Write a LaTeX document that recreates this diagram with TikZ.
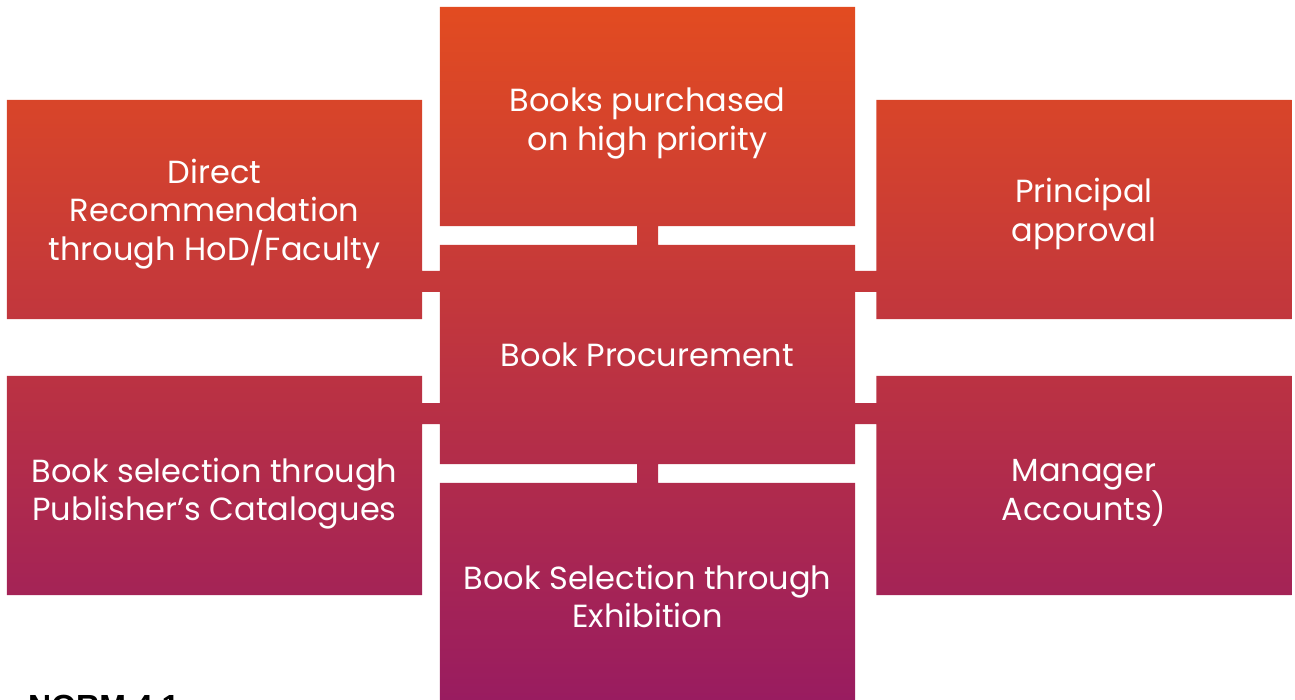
\documentclass[tikz,border=0pt]{standalone}
\usepackage{fontspec}
\setmainfont{Poppins}
\newfontfamily\normfont{Liberation Sans}
\usetikzlibrary{backgrounds}
\definecolor{gtop}{HTML}{E34C20}
\definecolor{gmid}{HTML}{C33A40}
\definecolor{gbot}{HTML}{991C60}
\begin{document}
\begin{tikzpicture}[x=1pt,y=-1pt,
  box/.style={rectangle, minimum width=415pt, minimum height=219pt, inner sep=0pt},
  txt/.style={inner sep=0pt, text=white, align=center, font=\fontsize{32}{38.5}\selectfont}]
\useasboundingbox (0,0) rectangle (1295,700);
\node[box] (top) at (647.5,116.5) {};
\node[box] (center) at (647.5,354.5) {};
\node[box] (bottom) at (647.5,592.5) {};
\node[box] (lt) at (214.5,209.5) {};
\node[box] (lb) at (214.5,485.5) {};
\node[box] (rt) at (1084,209.5) {};
\node[box] (rb) at (1084,485.5) {};
\node[txt] (ttop) at ([yshift=-7pt]top.center) {Books purchased\\on high priority};
\node[txt] (tcenter) at ([yshift=0pt]center.center) {Book Procurement};
\node[txt] (tbottom) at ([yshift=-4pt]bottom.center) {Book Selection through\\Exhibition};
\node[txt] (tlt) at ([yshift=-4.5pt]lt.center) {Direct\\Recommendation\\through HoD/Faculty};
\node[txt] (tlb) at ([yshift=-8pt]lb.center) {Book selection through\\Publisher’s Catalogues};
\node[txt] (trt) at ([yshift=-4.5pt]rt.center) {Principal\\approval};
\node[txt] (trb) at ([yshift=-7.5pt]rb.center) {Manager\\Accounts)};
\coordinate (ua) at (0,271);
\coordinate (ub) at (0,292);
\coordinate (la) at (0,403);
\coordinate (lb2) at (0,424);
\node[anchor=north west, inner sep=0pt, font=\normfont\bfseries\fontsize{32}{36}\selectfont] (norm) at (28,694.5) {NORM 4.1};
\begin{scope}[on background layer]
\clip (top.north west) rectangle (top.south east)
      (center.north west) rectangle (center.south east)
      (bottom.north west) rectangle (bottom.south east)
      (lt.north west) rectangle (lt.south east)
      (lb.north west) rectangle (lb.south east)
      (rt.north west) rectangle (rt.south east)
      (rb.north west) rectangle (rb.south east)
      ([xshift=-10.5pt]top.south) rectangle ([xshift=10.5pt]center.north)
      ([xshift=-10.5pt]center.south) rectangle ([xshift=10.5pt]bottom.north)
      (lt.east |- ua) rectangle (center.west |- ub)
      (lb.east |- la) rectangle (center.west |- lb2)
      (center.east |- ua) rectangle (rt.west |- ub)
      (center.east |- la) rectangle (rb.west |- lb2);
\shade[top color=gtop, middle color=gmid, bottom color=gbot] (0,0) rectangle (1295,700);
\end{scope}
\end{tikzpicture}
\end{document}
